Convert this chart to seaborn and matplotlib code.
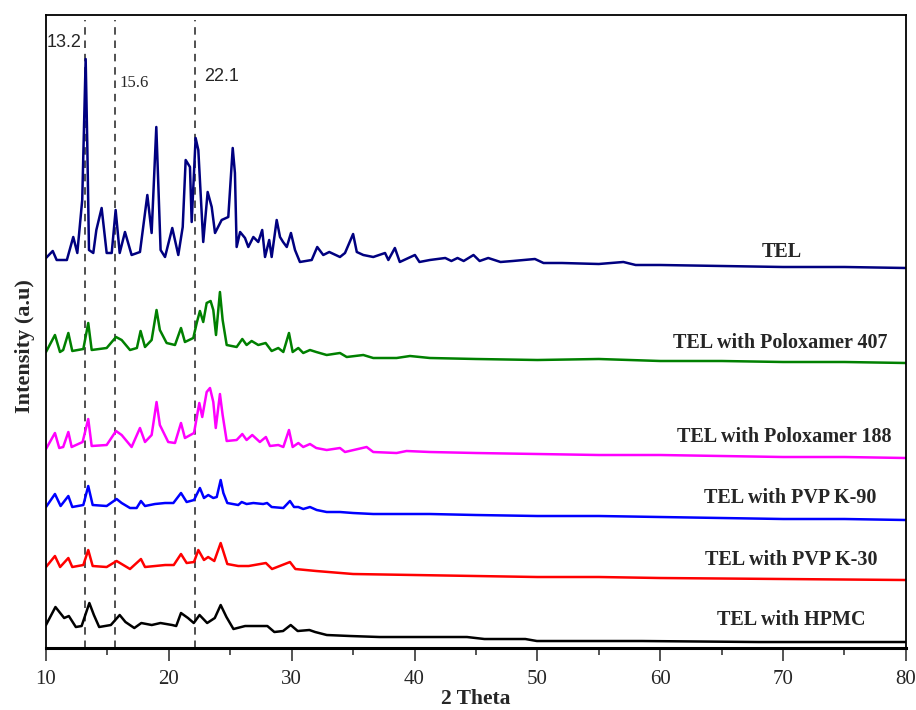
import numpy as np
import pandas as pd
import matplotlib
matplotlib.use("Agg")
import matplotlib.pyplot as plt
import seaborn as sns
from matplotlib.ticker import MultipleLocator

# ---------------- data (2-theta, intensity a.u. above each trace's tail) -------------
series_names = ["TEL", "TEL with Poloxamer 407", "TEL with Poloxamer 188",
                "TEL with PVP K-90", "TEL with PVP K-30", "TEL with HPMC"]

tel_x = [10.0, 10.55, 10.87, 11.7, 12.22, 12.55, 12.95, 13.23, 13.36, 13.5, 13.85, 14.1, 14.53,
         14.94, 15.35, 15.67, 16.0, 16.43, 16.97, 17.65, 18.25, 18.6, 18.98, 19.33, 19.69, 20.28,
         20.77, 21.13, 21.37, 21.72, 21.86, 22.18, 22.4, 22.8, 23.16, 23.49, 23.76, 24.3, 24.84,
         25.2, 25.38, 25.52, 25.8, 26.2, 26.47, 26.88, 27.28, 27.6, 27.83, 28.17, 28.37, 28.78,
         29.05, 29.3, 29.6, 29.94, 30.27, 30.67, 31.63, 32.08, 32.57, 33.06, 33.93, 34.34, 35.0,
         35.3, 35.83, 36.64, 37.6, 37.87, 38.4, 38.8, 40.03, 40.4, 41.25, 42.5, 43.0, 43.5, 44.0,
         44.8, 45.3, 46.0, 47.0, 48.0, 49.8, 50.5, 52.0, 55.0, 57.0, 58.0, 60.0, 65.0, 70.0,
         75.0, 80.0]
tel_y = [10, 17, 8, 8, 31, 15, 68, 209, 125, 18, 15, 38, 60,
         15, 15, 58, 15, 36, 13, 16, 73, 35, 141, 18, 11, 40,
         13, 41, 108, 101, 46, 130, 118, 26, 76, 61, 35, 48, 51,
         120, 95, 21, 36, 30, 21, 31, 26, 38, 11, 28, 11, 48,
         31, 26, 21, 35, 18, 6, 8, 21, 13, 16, 11, 15, 34,
         16, 13, 11, 15, 8, 20, 6, 13, 6, 8, 10, 7, 10, 7,
         13, 7, 10, 6, 7, 9, 5, 5, 4, 6, 3, 3, 2, 1,
         1, 0]

p407_x = [10.0, 10.73, 11.14, 11.4, 11.82, 12.14, 13.04, 13.44, 13.72, 14.94, 15.7, 16.16, 16.84,
          17.4, 17.7, 18.06, 18.6, 19.0, 19.27, 19.82, 20.5, 20.99, 21.31, 21.99, 22.27, 22.53,
          22.8, 23.08, 23.4, 23.62, 23.84, 24.16, 24.38, 24.71, 25.52, 25.98, 26.33, 26.74, 27.28,
          27.88, 28.37, 28.91, 29.32, 29.78, 30.08, 30.54, 30.94, 31.49, 32.0, 32.85, 33.93, 34.48,
          35.83, 36.64, 38.54, 39.63, 41.25, 45.0, 50.0, 55.0, 60.0, 65.0, 70.0, 75.0, 80.0]
p407_y = [11, 28, 11, 13, 30, 12, 14, 40, 13, 15, 26, 23, 13,
          15, 32, 16, 23, 53, 33, 20, 18, 35, 21, 25, 40, 52,
          41, 60, 62, 53, 28, 71, 43, 18, 16, 24, 18, 22, 18,
          20, 12, 15, 11, 30, 11, 15, 10, 13, 11, 8, 10, 6,
          8, 5, 5, 7, 5, 4, 3, 4, 2, 2, 1, 1, 0]

p188_x = [10.0, 10.73, 11.08, 11.4, 11.82, 12.09, 12.98, 13.44, 13.72, 14.94, 15.7, 16.16, 16.97,
          17.65, 18.06, 18.6, 19.0, 19.27, 19.95, 20.5, 20.99, 21.31, 22.05, 22.48, 22.72, 23.08,
          23.35, 23.62, 23.82, 24.16, 24.38, 24.71, 25.52, 25.98, 26.33, 26.79, 27.41, 27.9, 28.23,
          28.91, 29.32, 29.78, 30.08, 30.54, 30.94, 31.49, 32.0, 32.85, 33.93, 34.34, 36.1, 36.64,
          38.54, 39.35, 41.25, 45.0, 50.0, 55.0, 60.0, 65.0, 70.0, 75.0, 80.0]
p188_y = [9, 25, 10, 11, 26, 11, 16, 39, 12, 13, 27, 23, 11,
          30, 16, 23, 56, 33, 16, 15, 35, 20, 25, 55, 41, 66,
          70, 56, 30, 64, 43, 17, 18, 24, 18, 23, 16, 21, 12,
          13, 11, 28, 11, 15, 11, 14, 10, 8, 10, 6, 11, 6,
          5, 7, 6, 5, 4, 3, 3, 2, 1, 1, 0]

k90_x = [10.0, 10.73, 11.19, 11.82, 12.14, 13.04, 13.44, 13.8, 14.94, 15.75, 16.16, 16.84, 17.38,
         17.73, 18.06, 18.87, 19.69, 20.37, 20.99, 21.45, 22.05, 22.53, 22.86, 23.21, 23.62, 23.9,
         24.22, 24.44, 24.76, 25.65, 25.93, 26.33, 26.88, 27.68, 28.0, 28.37, 29.32, 29.86, 30.19,
         30.54, 30.94, 31.49, 32.04, 32.85, 33.93, 35.0, 36.64, 38.54, 41.25, 45.0, 50.0, 55.0,
         60.0, 65.0, 70.0, 75.0, 80.0]
k90_y = [13, 26, 14, 24, 13, 15, 34, 15, 14, 21, 17, 12, 12,
         19, 14, 16, 17, 17, 27, 18, 20, 32, 22, 25, 22, 23,
         40, 27, 17, 15, 18, 16, 17, 16, 17, 13, 12, 19, 13,
         13, 11, 13, 10, 8, 8, 7, 6, 6, 6, 5, 4, 4,
         3, 2, 1, 1, 0]

k30_x = [10.0, 10.73, 11.15, 11.82, 12.14, 13.04, 13.44, 13.8, 14.94, 15.75, 16.84, 17.73, 18.06,
         19.7, 20.4, 20.99, 21.45, 22.05, 22.4, 22.86, 23.2, 23.7, 24.22, 24.76, 25.65, 26.5,
         27.9, 28.4, 29.86, 30.3, 32.0, 35.0, 40.0, 50.0, 55.0, 60.0, 70.0, 80.0]
k30_y = [13, 24, 13, 22, 13, 15, 30, 14, 13, 19, 11, 21, 13,
         15, 15, 26, 17, 18, 30, 20, 23, 19, 37, 16, 14, 14,
         17, 11, 18, 11, 9, 6, 5, 3, 3, 2, 1, 0]

hpmc_x = [10.0, 10.77, 11.48, 11.86, 12.43, 12.9, 13.53, 13.9, 14.33, 15.28, 16.0, 16.47, 17.19,
          17.76, 18.61, 19.32, 20.27, 20.6, 20.99, 21.56, 22.03, 22.5, 23.12, 23.74, 24.22, 24.69,
          25.26, 26.21, 27.17, 28.02, 28.59, 29.3, 29.92, 30.49, 31.44, 31.91, 32.86, 34.77, 37.15,
          44.27, 45.69, 49.02, 49.96, 58.5, 68.0, 80.0]
hpmc_y = [17, 35, 24, 26, 15, 16, 39, 27, 15, 17, 27, 20, 14,
          19, 17, 19, 17, 16, 29, 24, 19, 27, 19, 24, 37, 25,
          13, 16, 16, 16, 10, 11, 17, 11, 12, 10, 7, 6, 5,
          5, 3, 3, 1, 1, 0, 0]

marker_positions = [13.2, 15.6, 22.1]
marker_labels = ["13.2", "15.6", "22.1"]

# ---------------- styling / layout -------------------------------------------------
colors = ["#000080", "#008000", "#FF00FF", "#0000FF", "#FF0000", "#000000"]
offsets = [380, 285, 190, 128, 68, 6]

sns.set_style("white")
plt.rcParams["font.family"] = ["Liberation Serif", "DejaVu Serif"]

xs = [tel_x, p407_x, p188_x, k90_x, k30_x, hpmc_x]
ys = [tel_y, p407_y, p188_y, k90_y, k30_y, hpmc_y]
frames = []
for name, x, y, off in zip(series_names, xs, ys, offsets):
    frames.append(pd.DataFrame({"two_theta": x,
                                "intensity": np.asarray(y, float) + off,
                                "sample": name}))
df = pd.concat(frames, ignore_index=True)

fig = plt.figure(figsize=(9.16, 7.10), dpi=100)
ax = fig.add_axes([0.0502, 0.0873, 0.9388, 0.8916])

sns.lineplot(data=df, x="two_theta", y="intensity", hue="sample",
             hue_order=series_names, palette=dict(zip(series_names, colors)),
             estimator=None, sort=False, legend=False, linewidth=1.8, ax=ax)
for ln in ax.get_lines():
    ln.set_solid_joinstyle("round")

ax.vlines(marker_positions, 0, 628, colors="#333333", linestyles=(0, (4.5, 3.5)),
          linewidth=1.2, zorder=1)

ax.set_xlim(10, 80)
ax.set_ylim(0, 633)
ax.xaxis.set_major_locator(MultipleLocator(10))
ax.xaxis.set_minor_locator(MultipleLocator(5))
ax.tick_params(axis="x", which="major", direction="out", length=9, width=1.1,
               labelsize=15, pad=7, bottom=True)
ax.tick_params(axis="x", which="minor", direction="out", length=5, width=1.1, bottom=True)
ax.set_yticks([])
for side in ["left", "right", "top"]:
    ax.spines[side].set_linewidth(1.3)
    ax.spines[side].set_color("black")
ax.spines["bottom"].set_linewidth(2.2)
ax.spines["bottom"].set_color("black")

ax.set_xlabel("2 Theta", fontsize=15.5, fontweight="bold", labelpad=0)
ax.set_ylabel("Intensity (a.u)", fontsize=16, fontweight="bold")
ax.yaxis.set_label_coords(-0.013, 0.477)

# series labels
lab_font = dict(fontsize=14.5, fontweight="bold", va="center")
ax.text(69.9, 396, series_names[0], ha="center", **lab_font)
ax.text(78.5, 305, series_names[1], ha="right", **lab_font)
ax.text(78.8, 211, series_names[2], ha="right", **lab_font)
ax.text(77.6, 150, series_names[3], ha="right", **lab_font)
ax.text(77.7, 88, series_names[4], ha="right", **lab_font)
ax.text(76.7, 28, series_names[5], ha="right", **lab_font)

# peak position annotations
ax.text(10.08, 605, marker_labels[0], ha="left", va="center", fontsize=13,
        family=["Liberation Sans", "DejaVu Sans"])
ax.text(16.0, 565, marker_labels[1], ha="left", va="center", fontsize=12,
        family=["Liberation Serif", "DejaVu Serif"])
ax.text(22.86, 571, marker_labels[2], ha="left", va="center", fontsize=13,
        family=["Liberation Sans", "DejaVu Sans"])

fig.savefig("out.png", dpi=100)
